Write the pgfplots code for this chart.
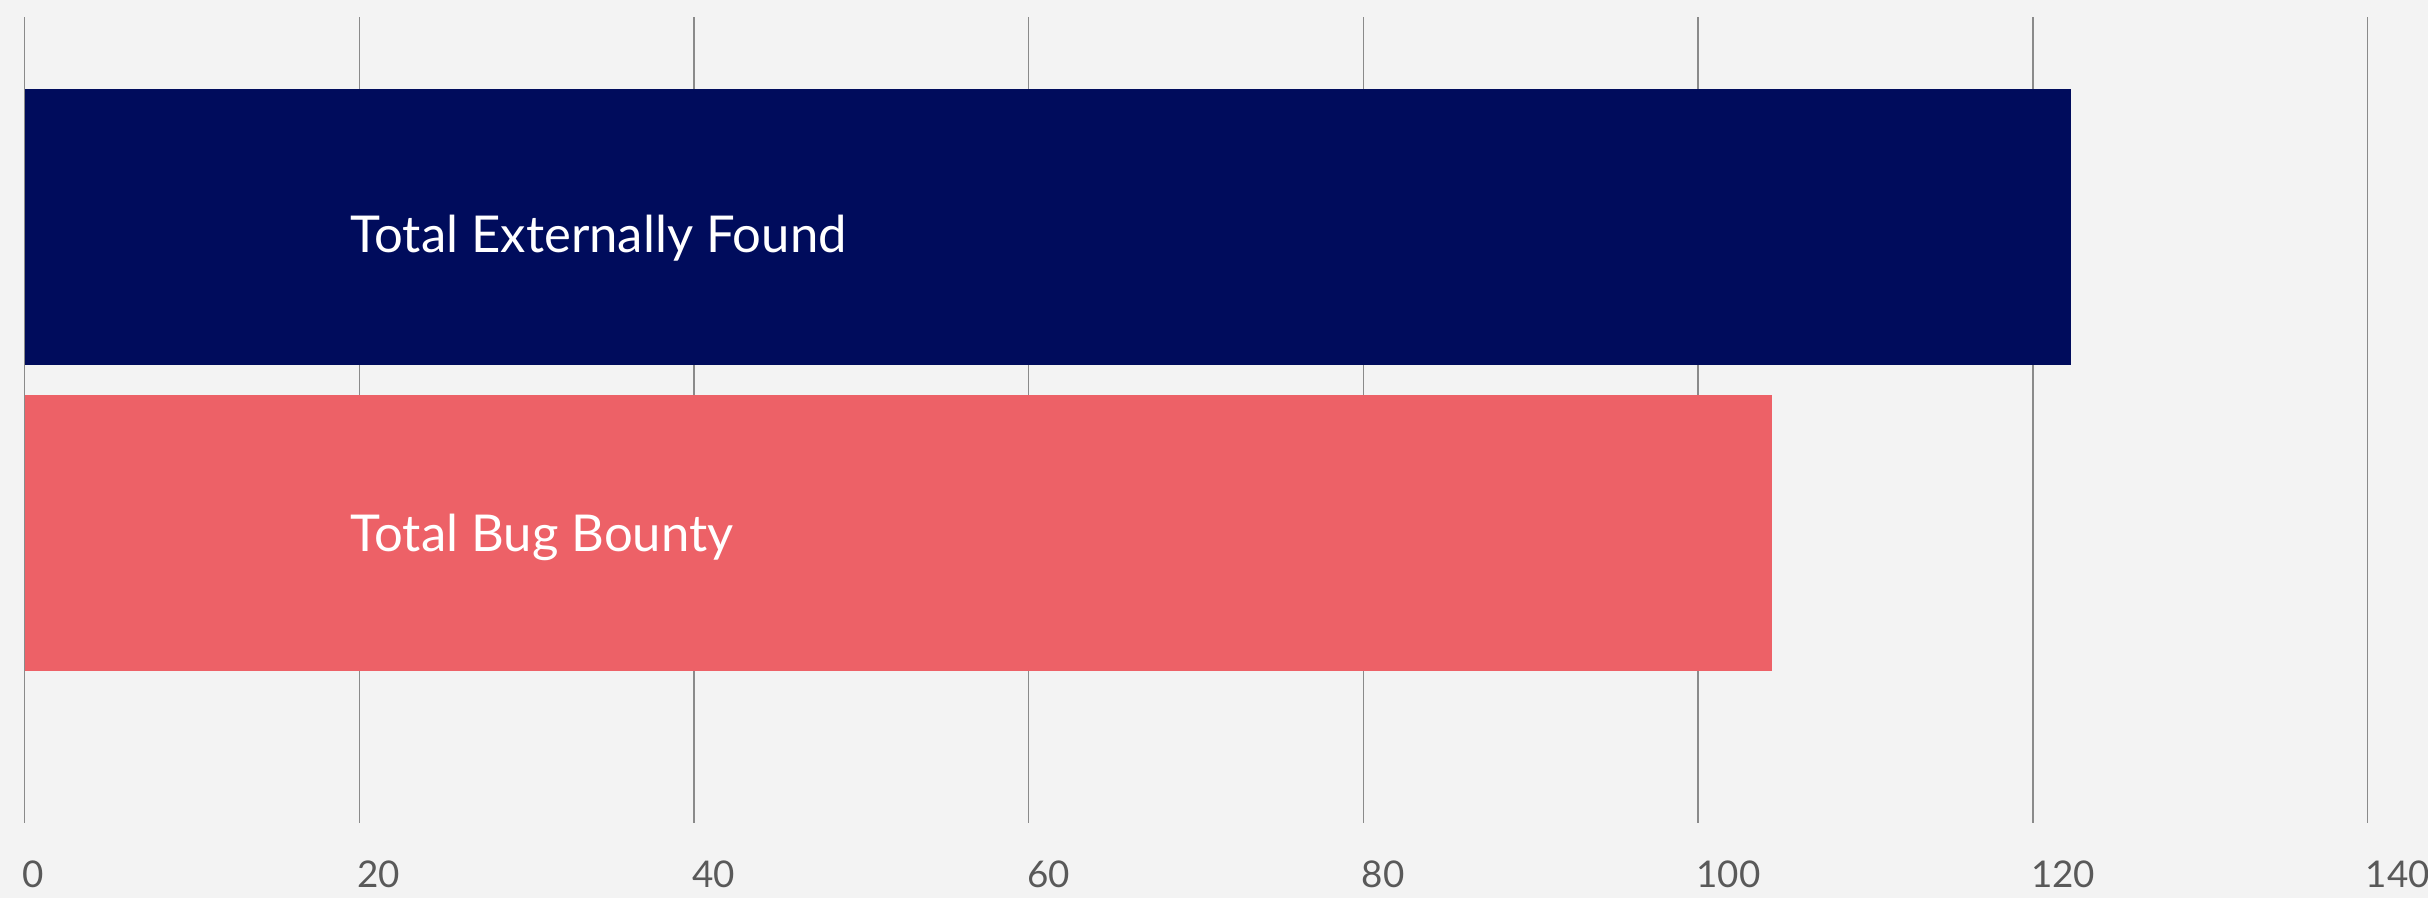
\documentclass[border=0pt]{standalone}
\usepackage{pgfplots}
\pgfplotsset{compat=1.18}
\usepackage{fontspec}
\setmainfont{Lato}
\definecolor{bgc}{HTML}{F3F3F3}
\definecolor{navy}{HTML}{000C5C}
\definecolor{coral}{HTML}{ED6167}
\definecolor{gridc}{HTML}{8A8A8A}
\definecolor{tickc}{HTML}{595959}
\begin{document}
\begin{tikzpicture}
\useasboundingbox (0,0) rectangle (607pt,224.5pt);
\fill[bgc] (0,0) rectangle (607pt,224.5pt);
\begin{axis}[
  at={(6.125pt,18.8pt)}, anchor=south west,
  scale only axis,
  width=585.75pt, height=201.5pt,
  xmin=0, xmax=140, ymin=-0.945, ymax=1.685,
  xtick={0,20,...,140},
  ytick=\empty,
  axis line style={draw=none},
  xmajorgrids,
  grid style={gridc, line width=0.35pt},
  major tick length=0pt,
  xticklabel style={anchor=north west, inner sep=0pt, xshift=-0.6pt, yshift=-9.4pt, text=tickc, font=\fontsize{9.2}{11}\selectfont},
  /pgf/number format/assume math mode=true,
  xbar, bar width=0.9, bar shift=0pt,
  clip=false,
]
\addplot[fill=navy, draw=none] coordinates {(122.3,1)};
\addplot[fill=coral, draw=none] coordinates {(104.4,0)};
\node[anchor=base west, text=white, inner sep=0pt, font=\fontsize{12.7}{14}\selectfont, yshift=-6.4pt] at (axis cs:19.45,1) {Total Externally Found};
\node[anchor=base west, text=white, inner sep=0pt, font=\fontsize{12.7}{14}\selectfont, yshift=-4.6pt] at (axis cs:19.45,0) {Total Bug Bounty};
\end{axis}
\end{tikzpicture}
\end{document}
